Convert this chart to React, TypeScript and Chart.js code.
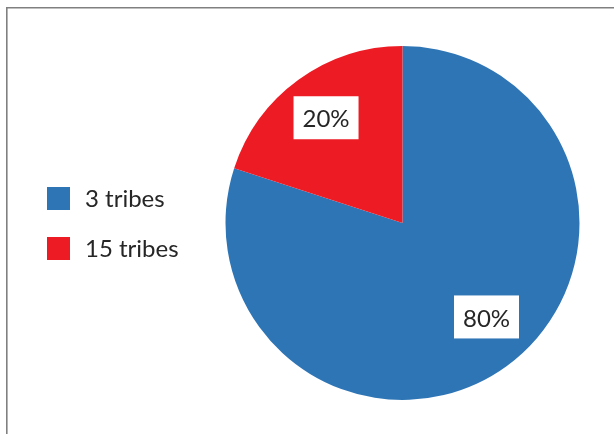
import React, { useEffect, useRef } from "react";
import { Chart, registerables } from "chart.js";

Chart.register(...registerables);

const categories = ["3 tribes", "15 tribes"];
const values = [80, 20];
const valueLabels = ["80%", "20%"];
const colors = ["#2E75B6", "#ED1C24"];

const FONT = "Lato, 'Open Sans', sans-serif";

const framePlugin = {
  id: "frame",
  beforeDraw(chart: any) {
    const ctx = chart.ctx;
    ctx.save();
    ctx.fillStyle = "#ffffff";
    ctx.fillRect(0, 0, chart.width, chart.height);
    ctx.strokeStyle = "#808080";
    ctx.lineWidth = 1.6;
    ctx.beginPath();
    ctx.moveTo(6.8, chart.height + 5);
    ctx.lineTo(6.8, 7.8);
    ctx.lineTo(chart.width + 5, 7.8);
    ctx.stroke();
    ctx.restore();
  },
};

const labelPlugin = {
  id: "sliceLabels",
  afterDatasetsDraw(chart: any) {
    const ctx = chart.ctx;
    const meta = chart.getDatasetMeta(0);
    const angleShift = [-5.8 * Math.PI / 180, 0];
    const radFrac = [0.712, 0.735];
    ctx.save();
    ctx.font = `24px ${FONT}`;
    ctx.textAlign = "center";
    ctx.textBaseline = "middle";
    meta.data.forEach((arc: any, i: number) => {
      const mid = (arc.startAngle + arc.endAngle) / 2 + angleShift[i];
      const r = arc.outerRadius * radFrac[i];
      const x = arc.x + Math.cos(mid) * r;
      const y = arc.y + Math.sin(mid) * r;
      const text = valueLabels[i];
      const w = 65;
      const h = 43;
      ctx.fillStyle = "#ffffff";
      ctx.fillRect(x - w / 2, y - h / 2, w, h);
      ctx.fillStyle = "#262626";
      ctx.fillText(text, x, y + 2);
    });
    ctx.restore();
  },
};

const legendPlugin = {
  id: "sideLegend",
  afterDraw(chart: any) {
    const ctx = chart.ctx;
    ctx.save();
    ctx.font = `24px ${FONT}`;
    ctx.textBaseline = "middle";
    ctx.textAlign = "left";
    categories.forEach((c, i) => {
      const cy = 198.5 + i * 50;
      ctx.fillStyle = colors[i];
      ctx.fillRect(47, cy - 11.5, 23, 23);
      ctx.fillStyle = "#262626";
      ctx.fillText(c, 85, cy + 1);
    });
    ctx.restore();
  },
};

export default function App() {
  const ref = useRef<HTMLCanvasElement>(null);
  useEffect(() => {
    document.body.style.margin = "0";
    const chart = new Chart(ref.current!, {
      type: "pie",
      data: {
        labels: categories,
        datasets: [
          {
            data: values,
            backgroundColor: colors,
            borderWidth: 0,
          },
        ],
      },
      options: {
        animation: false,
        responsive: false,
        maintainAspectRatio: false,
        layout: { padding: { left: 225.5, right: 34.5, top: 46, bottom: 34 } },
        plugins: {
          legend: { display: false },
          tooltip: { enabled: false },
        },
      },
      plugins: [framePlugin, labelPlugin, legendPlugin],
    });
    return () => chart.destroy();
  }, []);
  return (
    <div style={{ position: "absolute", left: 0, top: 0, width: 614, height: 434 }}>
      <canvas ref={ref} width={614} height={434} style={{ display: "block" }} />
    </div>
  );
}
